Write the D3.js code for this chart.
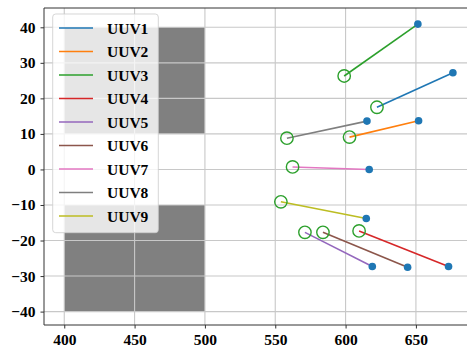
<!DOCTYPE html>
<html>
<head>
    <meta charset="utf-8">
    <title>UUV trajectories</title>
    <script src="https://cdn.jsdelivr.net/npm/d3@7"></script>
    <style>
        body { margin: 0; background: #fff; }
        svg text { font-family: "Liberation Serif", "DejaVu Serif", serif; font-weight: bold; }
    </style>
</head>
<body>
<script>
    // data
    var names = ['UUV1', 'UUV2', 'UUV3', 'UUV4', 'UUV5', 'UUV6', 'UUV7', 'UUV8', 'UUV9'];
    var colors = ['#1f77b4', '#ff7f0e', '#2ca02c', '#d62728', '#9467bd', '#8c564b', '#e377c2', '#7f7f7f', '#bcbd22'];
    var startX = [622.3, 602.8, 599.0, 609.6, 571.1, 583.9, 562.3, 558.3, 554.0];
    var startY = [17.5, 9.1, 26.3, -17.3, -17.7, -17.7, 0.7, 8.8, -9.1];
    var endX = [676.3, 651.9, 651.4, 673.2, 619.0, 644.1, 616.8, 615.2, 614.7];
    var endY = [27.2, 13.7, 40.9, -27.3, -27.3, -27.5, 0.0, 13.6, -13.8];
    // obstacles: [x0, x1, y0, y1]
    var obstacles = [[400, 500, 10, 40], [400, 500, -40, -10]];
    var xTicks = [400, 450, 500, 550, 600, 650];
    var yTicks = [-40, -30, -20, -10, 0, 10, 20, 30, 40];

    var width = 467, height = 350;
    var svg = d3.select('body').append('svg').attr('width', width).attr('height', height);

    var x = d3.scaleLinear().domain([385.6, 689.8]).range([44, 471.9]);
    var y = d3.scaleLinear().domain([-43.77, 45.43]).range([325, 8]);

    // obstacles
    svg.selectAll('rect.obs').data(obstacles).enter().append('rect')
        .attr('class', 'obs')
        .attr('x', function (d) { return x(d[0]); })
        .attr('y', function (d) { return y(d[3]); })
        .attr('width', function (d) { return x(d[1]) - x(d[0]); })
        .attr('height', function (d) { return y(d[2]) - y(d[3]); })
        .attr('fill', '#808080');

    // grid
    var grid = svg.append('g');
    grid.selectAll('line.gx').data(xTicks).enter().append('line')
        .attr('x1', function (d) { return x(d); }).attr('x2', function (d) { return x(d); })
        .attr('y1', 8).attr('y2', 325)
        .attr('stroke', '#c8c8c8').attr('stroke-width', 1.1);
    grid.selectAll('line.gy').data(yTicks).enter().append('line')
        .attr('y1', function (d) { return y(d); }).attr('y2', function (d) { return y(d); })
        .attr('x1', 44).attr('x2', width)
        .attr('stroke', '#c8c8c8').attr('stroke-width', 1.1);

    // trajectories
    var idx = d3.range(names.length);
    svg.selectAll('line.path').data(idx).enter().append('line')
        .attr('x1', function (i) { return x(startX[i]); })
        .attr('y1', function (i) { return y(startY[i]); })
        .attr('x2', function (i) { return x(endX[i]); })
        .attr('y2', function (i) { return y(endY[i]); })
        .attr('stroke', function (i) { return colors[i]; })
        .attr('stroke-width', 1.6);

    svg.selectAll('circle.end').data(idx).enter().append('circle')
        .attr('cx', function (i) { return x(endX[i]); })
        .attr('cy', function (i) { return y(endY[i]); })
        .attr('r', 3.8)
        .attr('fill', '#1f77b4');

    svg.selectAll('circle.start').data(idx).enter().append('circle')
        .attr('cx', function (i) { return x(startX[i]); })
        .attr('cy', function (i) { return y(startY[i]); })
        .attr('r', 6.2)
        .attr('fill', 'none')
        .attr('stroke', '#2ca02c')
        .attr('stroke-width', 1.4);

    // axes
    var xAxis = d3.axisBottom(x).tickValues(xTicks).tickSize(3.5).tickPadding(5).tickFormat(d3.format('d'));
    var yAxis = d3.axisLeft(y).tickValues(yTicks).tickSize(3.5).tickPadding(5).tickFormat(d3.format('d'));
    var gx = svg.append('g').attr('transform', 'translate(0,325)').call(xAxis);
    var gy = svg.append('g').attr('transform', 'translate(44,0)').call(yAxis);
    [gx, gy].forEach(function (g) {
        g.select('.domain').remove();
        g.selectAll('line').attr('stroke', '#333');
        g.selectAll('text').attr('font-size', '15.5px').attr('fill', '#000')
            .style('font-family', '"Liberation Serif", serif').style('font-weight', 'bold');
    });

    // spines (no right spine, it falls outside the picture)
    svg.append('line').attr('x1', 44).attr('x2', width).attr('y1', 325).attr('y2', 325).attr('stroke', '#333');
    svg.append('line').attr('x1', 44).attr('x2', width).attr('y1', 8).attr('y2', 8).attr('stroke', '#333');
    svg.append('line').attr('x1', 44).attr('x2', 44).attr('y1', 8).attr('y2', 325).attr('stroke', '#333');

    // legend
    var legend = svg.append('g');
    legend.append('rect')
        .attr('x', 52.7).attr('y', 14).attr('width', 105.6).attr('height', 218.7).attr('rx', 3)
        .attr('fill', 'rgba(255,255,255,0.8)')
        .attr('stroke', 'rgba(204,204,204,0.8)');
    var rows = legend.selectAll('g.row').data(idx).enter().append('g')
        .attr('transform', function (i) { return 'translate(0,' + (28 + i * 23.5) + ')'; });
    rows.append('line').attr('x1', 59).attr('x2', 93).attr('y1', 0).attr('y2', 0)
        .attr('stroke', function (i) { return colors[i]; }).attr('stroke-width', 1.6);
    rows.append('text').attr('x', 107).attr('y', 5.5)
        .attr('font-size', '15.5px')
        .text(function (i) { return names[i]; });
</script>
</body>
</html>
